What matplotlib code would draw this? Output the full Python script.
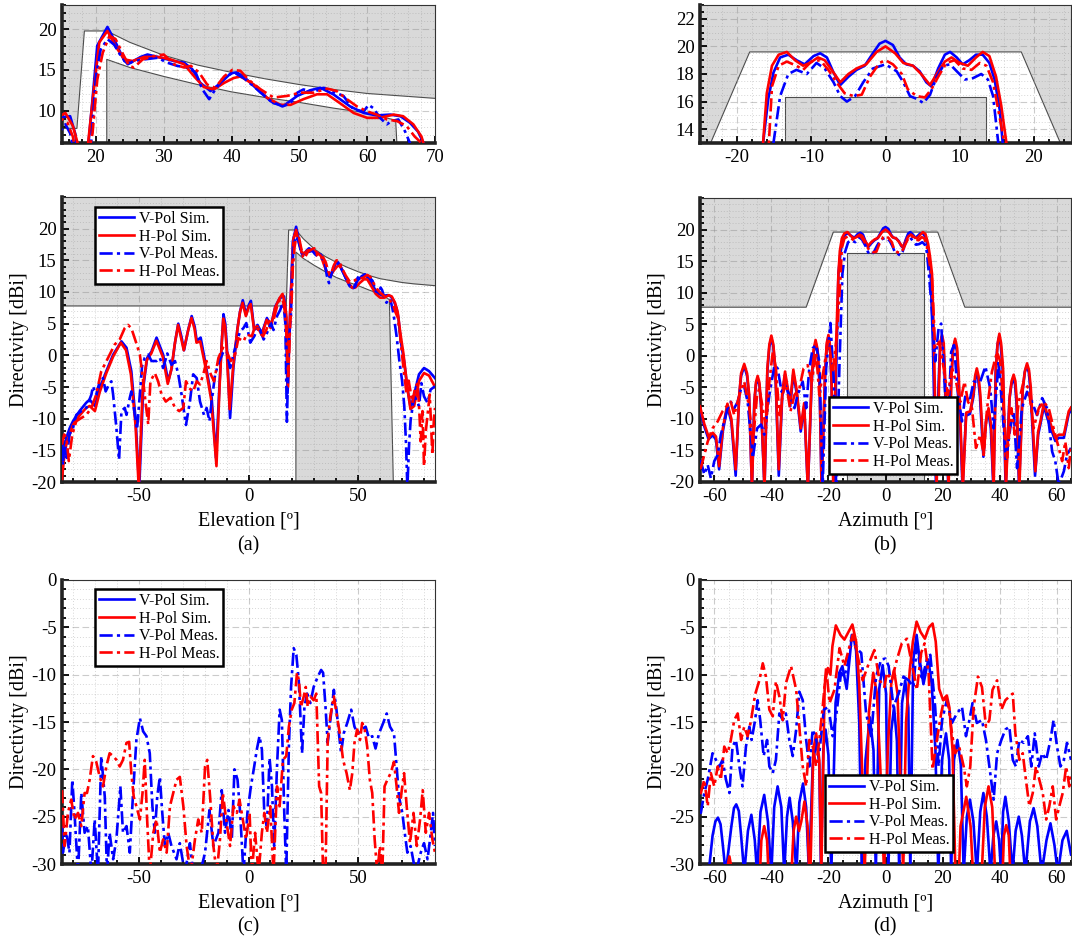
import numpy as np
import matplotlib
matplotlib.use('Agg')
import matplotlib.pyplot as plt
from matplotlib.lines import Line2D
from matplotlib.ticker import MultipleLocator, FixedLocator, FormatStrFormatter

plt.rcParams['font.family'] = ['Liberation Serif', 'DejaVu Serif']

# ---- elevation cut, co-polar (angle, dBi) ----
el_v_sim = [(-85, -18.5), (-84, -15), (-83, -13), (-81.5, -11.5), (-80, -10.4), (-77, -8.8), (-74, -7.5),
            (-72.4, -7), (-70, -8), (-67.8, -5.2), (-64.8, -2.5), (-61.7, 0.1), (-57.9, 2.2), (-55.6, 1.2),
            (-53.4, -2.5), (-51.4, -10.4), (-49.8, -21), (-48, -5.2), (-46.2, -0.4), (-44.2, 0.6), (-41.9, 2.8),
            (-38.9, 0.1), (-36.6, -4.1), (-35, -2), (-33.5, 2), (-32, 5), (-30.6, 3), (-29.4, 0.8), (-27.5, 4),
            (-25.9, 6.2), (-24.5, 4.5), (-23.6, 2.3), (-21.8, 2.8), (-20.3, 0), (-19, -2.5), (-16.8, -6.7),
            (-14.8, -16.2), (-13.3, -5.2), (-12.2, 2), (-11.4, 6.5), (-10.6, 5), (-9.9, 1.7), (-8.4, -9.9),
            (-6.9, -2), (-5, 4.3), (-3.8, 7), (-2.6, 8.7), (-1.1, 6.4), (0.2, 8), (1.1, 8.6), (2.6, 4), (4.1, 4.8),
            (6.1, 3.5), (8.4, 5.9), (10.2, 4.6), (12.2, 7.7), (14.2, 9), (15.2, 9.2), (16.2, 9.3), (17, 7),
            (17.8, -6), (18.8, 5), (19.5, 11.4), (20.2, 18), (21.7, 20.3), (22.9, 18.4), (24.2, 16.1), (25.1, 15.9),
            (26.6, 16.6), (27.6, 16.9), (29.6, 16.5), (31.5, 16.1), (33, 15.9), (34.2, 15.1), (35.4, 13.4),
            (36.9, 12.4), (38.4, 13.4), (39.9, 14.6), (40.8, 14.7), (42.3, 13.8), (44.3, 12.2), (46.2, 10.9),
            (47.7, 10.6), (49.7, 11.8), (51.6, 12.5), (53.1, 12.8), (55, 12), (57.5, 10.5), (59.5, 9.7),
            (61.4, 9.4), (63.4, 9.5), (64.9, 9.3), (66.3, 8.5), (67.5, 7.4), (68.3, 6), (69.4, 2.2), (70.9, -0.9),
            (72.4, -5.2), (73.9, -8.3), (75.5, -6.2), (77.7, -3), (80, -2), (82.3, -2.5), (85, -3.6)]
el_h_sim = [(-85, -19.5), (-84, -16), (-83, -14), (-81.5, -12.5), (-80, -11), (-77, -9.5), (-74, -8.3),
            (-72.4, -8), (-70, -8.8), (-67.8, -5.8), (-64.8, -2.8), (-61.7, -0.2), (-58.2, 2), (-55.8, 0.8),
            (-53.6, -3), (-51.5, -11), (-50, -21), (-48.2, -5), (-46.4, -0.8), (-44.3, 0.3), (-42, 2.3), (-39, -0.3),
            (-36.8, -4.5), (-35.2, -2.3), (-33.6, 1.8), (-32.1, 4.8), (-30.7, 2.7), (-29.5, 0.8), (-27.6, 3.8),
            (-26, 5.9), (-24.6, 4.2), (-23.7, 2.0), (-22, 2.2), (-20.4, -0.5), (-19, -3), (-17, -7), (-14.6, -17.5),
            (-13.2, -5), (-12.2, 1.8), (-11.5, 5.8), (-10.7, 4.6), (-10, 1.3), (-8.6, -8.5), (-7, -1.8), (-5.1, 4),
            (-3.9, 6.8), (-2.7, 8.3), (-1.2, 6.2), (0.1, 7.6), (1, 8.1), (2.5, 4.2), (4, 4.6), (6, 3.2), (8.3, 5.6),
            (10.1, 4.3), (12.1, 7.5), (14.1, 9), (15.5, 9.7), (16.6, 8.1), (17.3, 6), (18, -5), (18.9, 6.4),
            (19.8, 13.4), (20.5, 18.4), (21.7, 19.8), (22.9, 17.9), (24.2, 16.3), (25.4, 16.1), (27.1, 16.6),
            (29.1, 16.6), (31, 16.3), (33, 15.7), (34.5, 14.2), (35.9, 12.9), (37.4, 12.6), (38.9, 13.4), (40.3, 14),
            (41.3, 14.2), (43.3, 13.2), (45.2, 11.6), (47.2, 10.7), (48.7, 10.7), (50.6, 11.4), (52.6, 12),
            (54.1, 12), (56, 10.9), (58, 9.7), (60, 9.1), (61.9, 9.1), (63.9, 9.5), (65.3, 9.3), (66.8, 8.3),
            (68, 6.8), (69.2, 3.5), (70.6, 0.3), (72.2, -4.5), (73.8, -8.5), (75.5, -8), (77.8, -4), (80, -2.8),
            (82.3, -3.2), (85, -5)]
el_v_meas = [(-85, -14), (-84.6, -17.3), (-83.8, -13.6), (-82.8, -16.2), (-81.6, -12.5), (-80, -11.5),
             (-78.5, -9.4), (-76.2, -8.8), (-73.9, -8.3), (-71.6, -6.2), (-70.9, -4.9), (-69.4, -6.2), (-67.8, -4.1),
             (-66.3, -3.6), (-65.1, -5.7), (-63.6, -4.6), (-62.5, -4.1), (-61.7, -6.2), (-60.2, -11.5), (-59, -16.5),
             (-57.9, -8.8), (-56.4, -8.3), (-55.6, -9.4), (-54.1, -6.7), (-53.4, -5.7), (-51.8, -9.4),
             (-50.8, -11.7), (-49.5, -6), (-48.5, -1.7), (-47.3, -0.4), (-45.7, 0.1), (-44.2, -0.9), (-41.9, -0.9),
             (-40.4, -0.4), (-38.9, -2), (-37, 0.3), (-35.1, -1.5), (-33.5, -0.9), (-32, -3), (-30.5, -6.2),
             (-28.5, -11), (-26.7, -7.3), (-25.2, -3), (-23.6, -3.6), (-22.1, -7.3), (-20.3, -9.4), (-19.1, -8.3),
             (-17.8, -10.4), (-16.8, -7.3), (-15.2, -3), (-13.3, -0.9), (-11.4, 0.6), (-9.9, 0.6), (-8.4, -2),
             (-6.9, 0.1), (-5.3, 2.2), (-3.8, 3.8), (-2.3, 4.3), (-1, 5.1), (0.8, 2), (2.6, 3), (4.6, 4.6),
             (6.9, 2.5), (8.4, 3.5), (10.2, 5.1), (11.4, 4), (13, 6.2), (14.5, 7.2), (15.5, 8.3), (16.2, 7.2),
             (16.8, 5), (17.5, -10.5), (18.4, 2.5), (19.3, 6), (20, 14.2), (20.7, 17.5), (21.7, 18.8), (22.7, 18.1),
             (23.7, 16.7), (24.7, 15.7), (25.6, 16.1), (27.1, 16.3), (29.1, 16.5), (30.5, 15.9), (32, 15.5),
             (33.5, 15.3), (34.7, 14.7), (35.7, 12.6), (36.7, 11.4), (37.6, 12.6), (38.9, 14), (40.3, 14.7),
             (41.8, 14), (43.8, 12.6), (45.7, 11.2), (47.5, 10.5), (48.7, 10.9), (49.7, 12.2), (50.6, 12.6),
             (52.1, 12.3), (53.6, 12.8), (55, 12.3), (56.5, 11.8), (58, 10.1), (59.5, 9.9), (60.2, 10.7),
             (60.9, 10.3), (61.9, 9.1), (62.9, 8.3), (63.6, 8.7), (64.6, 8.9), (65.6, 7.4), (66.3, 6), (67.5, 3),
             (68.8, -1), (70, -4), (71, -8), (71.8, -14), (72.4, -21), (73.2, -14), (73.9, -10.2), (75.5, -6.5),
             (76.5, -7), (77.7, -8), (78.8, -4.4), (80, -6.5), (81.6, -7.5), (83, -5.4), (85, -4.9)]
el_h_meas = [(-85, -14.1), (-84, -12.5), (-83, -13), (-81.9, -16.7), (-80.3, -12.5), (-78.5, -10.4),
             (-76.2, -9.9), (-73.9, -9.4), (-71.6, -8.3), (-69.4, -6.2), (-67.1, -2.5), (-64, -0.4), (-61, 1.7),
             (-58.7, 2.5), (-56.4, 4.3), (-54.9, 4.8), (-53.4, 4.3), (-51.4, 2.2), (-49.5, 0.1), (-48, -4.1),
             (-46.8, -7.8), (-45.7, -10.9), (-44.7, -4.1), (-42.7, -2.8), (-41.2, -4.1), (-39.6, -6.2), (-37.7, -7.3),
             (-35.5, -6.7), (-33.5, -8.3), (-31.6, -8.8), (-29.7, -8.3), (-28.5, -4.1), (-27, -5.2), (-25.2, -5.7),
             (-23.6, -4.1), (-22.1, -4.6), (-20.6, -3), (-19.1, -0.9), (-17.2, -3), (-15.7, -4.1), (-13.7, -0.4),
             (-11.7, 1.2), (-9.9, 0.6), (-8.1, -0.9), (-6.1, 0.1), (-4.6, 2.7), (-2.3, 2.2), (-0.8, 3.3), (1.5, 3),
             (3, 4.6), (4.6, 4), (6.6, 3), (8.1, 4), (9.6, 5.4), (11.4, 5.6), (13, 7.7), (14.5, 9), (15.1, 8.9),
             (15.8, 8.5), (16.6, 6.8), (17.2, 4), (18.1, -3.3), (19, 5), (19.5, 7.2), (20.2, 13.8), (21, 17.1),
             (22, 19.2), (22.9, 18.8), (23.9, 17.1), (24.9, 15.5), (25.6, 15.3), (26.9, 16.3), (28.6, 16.7),
             (30, 16.9), (31.5, 15.7), (33, 15.3), (34, 15.5), (35.2, 14.7), (36.4, 13.2), (37.6, 12.8),
             (38.9, 14.2), (40.1, 15), (41.3, 14.9), (42.5, 13.8), (44.3, 12.6), (46.2, 11.6), (48.2, 11.8),
             (50.1, 12.2), (52.1, 12.2), (54.1, 12.7), (55.5, 12.4), (57, 11.4), (58.5, 10.5), (60, 9.9),
             (61.4, 9.5), (62.9, 8.9), (64.4, 8.7), (65.8, 8.1), (67, 6.8), (68, 6), (69, 3.5), (70, 0), (71, -3),
             (72, -6), (73, -4), (74.7, -7.5), (76, -5), (77, -4.5), (77.7, -7.8), (78.5, -13.6), (79.3, -8.8),
             (80, -17.5), (80.8, -12), (81.6, -9.4), (82.6, -6.2), (83.8, -15.7), (84.5, -10), (85, -8.3)]

# ---- azimuth cut, co-polar ----
az_v_sim = [(-65, -8.5), (-63.5, -11.2), (-62, -13.2), (-60.5, -12.6), (-59.4, -13.3), (-58.3, -18), (-57, -12),
            (-55.4, -8), (-54, -10.5), (-52.5, -19), (-51.3, -6.5), (-50.6, -3.2), (-49.5, -1.6), (-48.5, -3.2),
            (-47.8, -6.5), (-46.8, -21), (-46, -7.5), (-45.4, -4.6), (-44.8, -3.6), (-44.2, -4.6), (-43.6, -8),
            (-42.4, -21), (-41.4, -2.5), (-40.7, 1.4), (-40, 2.8), (-39.3, 1.4), (-38.6, -2.5), (-37.4, -19),
            (-36.2, -6.5), (-35.2, -3), (-34.3, -5.5), (-33.4, -8), (-32.3, -2.8), (-31.1, -6), (-29.7, -12),
            (-28.5, -8), (-27.2, -21), (-25.9, -4.5), (-25.2, 0.5), (-24.5, 2), (-23.8, 0.5), (-23.1, -4.5),
            (-22.4, -21), (-21.2, -3.5), (-20.6, 1.5), (-20, 3), (-19.4, 1), (-18.9, -4.5), (-18.2, -21),
            (-17.1, 1), (-16.5, 13), (-15.8, 16.2), (-15.1, 18.1),
            (-14.2, 19.2), (-13.1, 19.4), (-12, 19), (-10.9, 18.7), (-9.7, 19.3), (-8.8, 19.5), (-7.9, 19.2),
            (-7, 18.1), (-6.1, 17.2), (-5, 17.8), (-3.9, 18.3), (-2.8, 18.6), (-1.7, 19.5), (-0.8, 20.2), (0, 20.4),
            (1, 20.1), (1.9, 19.2), (2.8, 18.7), (3.7, 18.6), (4.6, 18.2), (5.5, 17.4), (6.2, 17.1), (7.1, 18.4),
            (8, 19.4), (8.7, 19.6), (9.6, 19.2), (10.4, 18.7), (11.3, 19), (12.2, 19.4), (13.1, 19.4), (14, 18.8),
            (14.7, 17.6), (15.4, 15.4), (15.8, 13), (16.6, 2), (17.7, -21), (18.6, -4.5), (19.1, 1.5),
            (19.7, 3), (20.3, 1.5), (20.8, -4), (22, -21), (23, -4), (23.6, 0.8), (24.3, 2.3), (25, 0.8),
            (25.6, -4), (27, -21), (28.2, -9.5), (29.6, -9.2), (30.8, -6.5), (31.4, -3.8), (31.9, -2.5),
            (32.5, -3.8), (33.1, -6.5), (34.3, -16), (35.2, -10.5), (36, -8.8), (36.9, -11.5), (37.8, -21),
            (38.6, -2.5), (39.2, 1.6), (39.8, 3), (40.4, 1.6), (41.1, -2.5), (42.1, -21), (43.4, -7),
            (44.1, -4.6), (44.8, -3.5), (45.4, -4.6), (45.9, -7.5), (46.8, -21), (48, -5.8), (48.8, -2.6),
            (49.5, -1.6), (50.2, -2.6), (50.8, -5.5), (52.4, -19), (53.5, -12.5),
            (54.3, -10.8), (55.5, -8), (56.8, -10), (58.3, -12), (59.5, -13.5), (60.7, -13), (62.5, -13),
            (64.2, -9.2), (65, -8.6)]
az_h_sim = [(-65, -8), (-63.5, -10.8), (-62, -12.8), (-60.5, -12.2), (-59.4, -12.8), (-58.3, -17.5), (-57, -11.5),
            (-55.4, -7.6), (-54, -10), (-52.5, -18), (-51.2, -6), (-50.6, -2.8), (-49.5, -1.3), (-48.5, -2.8),
            (-47.8, -6), (-46.8, -21), (-45.9, -7), (-45.4, -4.2), (-44.8, -3.2), (-44.2, -4.2), (-43.6, -7.5),
            (-42.4, -21), (-41.4, -2), (-40.7, 1.8), (-40, 3.2), (-39.3, 1.8), (-38.6, -2), (-37.4, -18),
            (-36.2, -6), (-35.2, -2.5), (-34.3, -5), (-33.4, -7.5), (-32.3, -2.2), (-31.1, -5.5),
            (-29.7, -11.5), (-28.5, -7.5), (-27.2, -21), (-25.9, -4), (-25.2, 1), (-24.5, 2.5), (-23.8, 1),
            (-23.1, -4), (-22.4, -21), (-21.2, -3), (-20.6, 2), (-20, 3.3), (-19.4, 1.5), (-18.9, -4),
            (-18.3, -21), (-17.3, 2), (-16.5, 13), (-16, 16.6), (-15.3, 18.6),
            (-14.4, 19.4), (-13.3, 19.6), (-12.2, 19), (-11.1, 18.6), (-10.2, 18.8), (-9.1, 19.2), (-8.2, 19),
            (-7, 18.1), (-6.1, 17.4), (-5, 18), (-3.9, 18.4), (-2.6, 18.7), (-1.2, 19.6), (0, 20), (1.3, 19.5),
            (2.4, 18.8), (3.7, 18.6), (4.8, 18), (6, 17.2), (6.9, 18), (8, 18.9), (8.9, 19.2), (10, 18.8),
            (11.1, 18.6), (12.2, 19.2), (13.1, 19.6), (14, 19.3), (14.9, 17.8), (15.6, 15.7), (16.3, 13), (17, 2),
            (17.9, -21), (18.8, -4), (19.2, 2), (19.8, 3.3), (20.4, 2), (20.9, -3.5), (22.1, -21), (23.1, -3.5),
            (23.7, 1.2), (24.4, 2.7), (25.1, 1.2), (25.7, -3.5), (27.1, -21), (28.3, -9), (29.7, -8.8),
            (30.8, -6), (31.4, -3.2), (32, -2), (32.6, -3.2), (33.2, -6), (34.4, -15.7), (35.3, -10),
            (36.1, -8.3), (37, -11), (37.9, -21), (38.7, -2), (39.3, 2), (39.9, 3.5), (40.5, 2), (41.2, -2),
            (42.2, -21), (43.5, -6.5), (44.2, -4), (44.9, -3), (45.5, -4), (46, -7), (46.9, -21), (48.1, -5),
            (48.9, -2.3), (49.6, -1.2), (50.3, -2.3), (50.9, -5), (52.5, -18.3), (53.5, -12),
            (54.3, -10.4), (55.5, -7.5), (56.8, -9.4), (58.4, -11.5), (59.5, -13), (60.7, -12.5), (62.5, -12.5),
            (64.2, -8.8), (65, -8.2)]
az_v_meas = [(-65, -16.7), (-64.7, -16.7), (-63.5, -18.8), (-62.3, -17.3), (-61.2, -19.4), (-60, -16.7),
             (-58.8, -15.7), (-57.7, -12.5), (-56.5, -10.4), (-55.3, -8.3), (-54.2, -7.3), (-53, -8.3),
             (-51.8, -7.3), (-50.6, -5.2), (-49.5, -4.9), (-48.3, -7.3), (-46.5, -16.2), (-45, -11.5),
             (-43.6, -10.9), (-42.5, -12.5), (-40.7, -6.2), (-38.9, -1.5), (-37.8, -2), (-36.4, -5.7), (-35.2, -4.6),
             (-33.7, -6.2), (-31.9, -8.3), (-30.8, -6.2), (-29, -4.1), (-27.8, -8.3), (-26.7, -2), (-25.5, 1.2),
             (-24.3, 1.7), (-23.2, -0.9), (-22, -20.5), (-20.8, -2), (-19.3, 5.2), (-18.1, -4.1), (-17.3, -20.5),
             (-16.1, -0.9), (-15.1, 13), (-14.2, 16.4), (-13.1, 18), (-12, 18.3), (-10.6, 18), (-9.3, 18.8),
             (-8.2, 18.4), (-7, 17.4), (-6.1, 16.4), (-5.2, 16), (-4.1, 16.4), (-3, 17.4), (-1.7, 18.4), (0, 18.7),
             (1.5, 18.2), (2.4, 17.4), (3.3, 16.4), (4.2, 16.2), (5.1, 15.9), (6, 16.5), (6.9, 17.8), (7.8, 18.6),
             (8.7, 18.7), (9.6, 18.2), (10.7, 17.6), (11.8, 17.7), (12.9, 18), (13.8, 17.6), (14.5, 16.4),
             (15.2, 13), (16.3, 7), (17.4, -0.9), (18.6, 4.3), (19.5, 5.1), (20.7, -4.1), (21.9, -11.5), (23, 0.6),
             (24, 1.7), (25.4, -6.2), (26.8, -10.4), (28, -6.2), (29.4, -7.3), (30.9, -4.1), (33.2, -4.1),
             (35, -1.7), (36.7, -5.2), (37.9, -11.5), (39.6, -0.9), (41.1, -9.4), (42.2, -16.7), (43.7, -11.5),
             (44.9, -8.8), (46.1, -17.8), (47.8, -8.3), (49.6, -5.7), (51.3, -7.3), (53.1, -9.4), (54.9, -6.7),
             (56.6, -8.3), (58.4, -15.2), (59.5, -16.7), (60.7, -20.5), (62.5, -18.3), (63.6, -15.7), (65, -14.6)]
az_h_meas = [(-65, -17.8), (-64.7, -17.8), (-63.5, -15.7), (-62.3, -13.6), (-60.6, -11.5), (-58.8, -10.4),
             (-57.1, -8.8), (-55.3, -7.8), (-54.2, -7.3), (-53, -9.4), (-51.2, -6.2), (-49.5, -4.1), (-47.7, -8.3),
             (-46.5, -14.1), (-45, -6.2), (-44.2, -5.2), (-43, -8.3), (-41.9, -11.5), (-40.7, -4.1), (-39.5, 0.6),
             (-38.4, -2), (-37.2, -9.4), (-36, -6.2), (-34.9, -4.1), (-33.3, -8.8), (-31.9, -6.2), (-30.2, -5.2),
             (-28.7, -2), (-27.3, -1.5), (-25.8, -4.1), (-24.3, 0.6), (-23.2, -6.2), (-21.6, -2), (-20, 2.7),
             (-18.5, -2.5), (-17, 3.3), (-15.8, 12.2), (-15.3, 17.1), (-14.4, 18.6), (-13.3, 18.9), (-12, 18.6),
             (-11.1, 18.3), (-10, 18.9), (-8.8, 19), (-7.7, 18.3), (-6.6, 17.4), (-5.5, 16.6), (-4.3, 16.4),
             (-3.2, 16.5), (-2.1, 17.8), (-0.8, 18.8), (0, 19), (1, 18.7), (2.2, 18), (3, 16.9), (4.2, 16.4),
             (5.3, 16.3), (6.2, 16.9), (7.1, 17.8), (8.2, 18.8), (9.3, 19), (10.4, 18.4), (11.6, 18.3), (12.7, 18.8),
             (13.6, 18.6), (14.5, 17.4), (15.2, 15.4), (16.3, 12.2), (17.4, 1.2), (18.8, 2.2), (20.4, -2),
             (21.9, -6.2), (23.3, -2), (24.7, -4.1), (26.2, -7.3), (27.7, -4.1), (28.9, -7.3), (30.3, -8.3),
             (31.7, -14.6), (33.2, -12.5), (34.4, -15.7), (35.6, -8.3), (37.3, -2.5), (39.1, 0.6), (40.2, -0.9),
             (41.4, -8.3), (42.6, -16.2), (44.1, -8.3), (45.3, -12.5), (46.7, -7.3), (48.4, -4.1), (50.2, -5.2),
             (51.9, -11.5), (53.7, -8.3), (55.4, -7.3), (57.2, -8.3), (58.9, -11.5), (60.7, -14.6), (61.9, -16.7),
             (63, -13.6), (64.2, -17.8), (65, -14.6)]

# ---- elevation cut, cross-polar (measured) ----
el_xp_v_meas = [(-85, -26), (-84.6, -28.8), (-83, -26.7), (-81.6, -28.8), (-80.3, -21.1), (-79.3, -24.6),
                (-77.7, -31), (-76.2, -22.5), (-74.7, -26.7), (-73.2, -26), (-71.6, -31), (-70.1, -25.3),
                (-68.6, -31), (-67.1, -18.6), (-65.5, -22.9), (-64.5, -31), (-63.3, -26.7), (-61.7, -29.5),
                (-60.2, -27.4), (-58.4, -21.8), (-57.2, -26.7), (-55.6, -26), (-54.1, -28.8), (-52.6, -22.5),
                (-51.1, -16.9), (-49.5, -14.6), (-48, -16), (-46.5, -16.5), (-45, -18.3), (-43.8, -23.9),
                (-42.7, -26.7), (-41.6, -22.9), (-40.4, -20.8), (-39.3, -24.6), (-38.1, -28.1), (-36.6, -26.7),
                (-35.1, -28.1), (-32.8, -29.5), (-31.3, -27.8), (-29, -31), (-26.7, -27.8), (-25.2, -31),
                (-22.1, -31), (-19.8, -28.8), (-17.8, -24.3), (-16, -28.1), (-13.7, -26.7), (-12.2, -22.2),
                (-10.7, -26.7), (-9.1, -24.3), (-7.6, -27.4), (-6.4, -20), (-5, -21.1), (-3.8, -24.6), (-2.3, -31),
                (-0.5, -24.6), (1.1, -21.8), (2.6, -19.7), (3.8, -17.9), (5, -16.5), (6.1, -17.9), (7.2, -24.6),
                (8.4, -26), (9.6, -18.8), (10.7, -21.8), (11.7, -28.1), (13, -19.7), (14.2, -13.7), (15.2, -14.8),
                (16.3, -24.6), (17.2, -31), (18.4, -17.6), (19.4, -11.3), (20.6, -7.2), (21.8, -7.9), (22.9, -10.6),
                (23.6, -14.1), (24.4, -18.3), (25.5, -13.4), (26.7, -12), (28.2, -13), (29.7, -11.3), (31.6, -10.2),
                (33.1, -9.5), (34, -9.8), (35.1, -13.4), (36.1, -17.2), (37.3, -14.8), (38.9, -11.6), (40.1, -13.7),
                (41.2, -16.2), (42.2, -18.3), (43.4, -16.2), (45, -15.1), (46.8, -13.7), (48.3, -15.5),
                (49.8, -16.2), (51.4, -15.8), (53.4, -15.5), (54.9, -16.7), (56.4, -16.5), (57.9, -17.8),
                (59.5, -16.2), (61.4, -15.1), (63, -14.1), (64.5, -15.5), (66.3, -16.2), (67.5, -19.7),
                (68.6, -22.9), (70.1, -24.6), (71.2, -26.7), (72.4, -28.8), (73.9, -28.1), (76.2, -31),
                (78.5, -28.8), (80, -27.8), (81.6, -29.5), (83.1, -26.7), (84.1, -24.6), (85, -28.1)]
el_xp_h_meas = [(-85, -22.2), (-83.8, -28.1), (-82.3, -24.6), (-80.8, -23.2), (-79.3, -25.3), (-77.7, -24.6),
                (-76.2, -26), (-74.7, -22.5), (-73.6, -22.5), (-72.4, -21.1), (-70.9, -18.6), (-69.4, -19.2),
                (-67.8, -20.8), (-66.3, -21.8), (-64.8, -19.7), (-63.3, -18.3), (-61.7, -18.6), (-60.2, -19),
                (-58.7, -19.7), (-57.2, -19), (-55.6, -17.2), (-54.4, -17.1), (-53.4, -20.4), (-52.3, -22.9),
                (-51.1, -23.9), (-49.5, -25.3), (-48.3, -22.5), (-47.3, -19), (-46.2, -25.3), (-45, -31),
                (-43.4, -26.7), (-41.9, -25.3), (-40.4, -28.8), (-38.9, -27.4), (-37.3, -28.8), (-35.8, -23.9),
                (-34.3, -22.5), (-32.8, -21.1), (-31.3, -20.8), (-29.7, -23.9), (-28.2, -28.1), (-26.4, -31),
                (-24.4, -27.4), (-22.9, -25.3), (-21.3, -26.7), (-19.8, -19.7), (-18.8, -19), (-17.5, -22.9),
                (-16, -28.1), (-14.5, -31), (-13, -27.4), (-11.7, -22.5), (-10.2, -25.3), (-8.4, -28.1),
                (-6.9, -23.9), (-5.3, -24.6), (-4.1, -23.2), (-2.6, -25.3), (-1.1, -27.4), (0.5, -24.6), (1.5, -31),
                (3, -26.7), (4.6, -31), (6.1, -26.7), (7.2, -24.6), (8.4, -26.7), (9.9, -23.9), (11.4, -31),
                (13, -21.8), (14.2, -23.9), (15.7, -19), (17.2, -18.6), (18.4, -15.5), (19.7, -13.7), (20.9, -13),
                (22.1, -9.8), (23, -10.6), (23.9, -13.4), (25.2, -12.3), (26.1, -11.3), (27, -13.4), (28.2, -12.3),
                (29.7, -12.7), (30.9, -12), (32.2, -21.8), (33.1, -22.5), (34, -31), (35.1, -31), (36.1, -16.9),
                (37.3, -14.4), (38.9, -12.3), (40.1, -14.1), (41.6, -16.2), (43.1, -19), (44.7, -20.4),
                (46.2, -22.2), (47.3, -20.4), (48.3, -17.2), (49.5, -15.8), (50.8, -16.9), (51.8, -15.1),
                (53, -15.8), (54.1, -17.6), (55.3, -21.1), (56.4, -22.5), (57.5, -27.4), (58.7, -31), (59.9, -28.1),
                (61, -31), (62, -21.8), (63.3, -21.1), (64.8, -20.4), (66.3, -19.2), (67.5, -21.8), (68.6, -24.6),
                (69.7, -22.5), (70.9, -20.4), (72.1, -23.9), (73.6, -27.8), (75.2, -24.6), (76.7, -28.1),
                (78.2, -25.3), (79.4, -22.2), (80.8, -26.7), (82.3, -24.6), (83.8, -27.4), (85, -28.8)]

# ---- azimuth cut, cross-polar ----
az_xp_v_sim = [(-65, -31), (-62, -31), (-60.6, -27), (-59.6, -25.5), (-58.7, -25.1), (-57.8, -25.8), (-57, -28),
               (-56, -31), (-54, -26), (-53.1, -24.1), (-52.3, -23.7), (-51.4, -24.4), (-50.6, -27), (-49.5, -31),
               (-48.2, -26.5), (-47, -24.8), (-45.8, -27.5), (-45, -31), (-43.8, -24.5), (-42.5, -22.7),
               (-41.2, -25.5), (-40, -31), (-39, -24), (-37.8, -21.8), (-36.5, -24), (-35.5, -31), (-34.5, -25),
               (-33.6, -23), (-32.5, -25.5), (-31.2, -31), (-30.2, -23.5), (-28.9, -21.5), (-27.8, -24),
               (-26.8, -31), (-25.5, -19.5), (-24.2, -16.9), (-23.2, -19.5), (-22.6, -31), (-21.8, -18),
               (-21, -15.8), (-20, -18.5), (-19, -31), (-17.5, -13), (-16.2, -9.8), (-15.1, -9.1), (-13.6, -11.5),
               (-12, -6.5), (-11.3, -5.8), (-10.3, -7.5), (-9.2, -15), (-8.3, -31), (-7, -19), (-5.5, -14.5),
               (-4.2, -18), (-3.4, -31), (-2.2, -11.5), (-1, -9), (0.2, -12), (1, -31), (2, -16), (3, -13.4),
               (4, -17), (4.8, -31), (5.8, -13), (6.9, -10.6), (8, -13.5), (8.7, -31), (9.7, -8.5), (10.9, -5.8),
               (12, -8.5), (13.3, -11), (15, -8.4), (16.2, -11), (17.5, -18), (18.5, -31), (19.8, -19),
               (21.2, -16.2), (22.3, -19), (23, -31), (24, -19), (25.2, -16.9), (26.4, -19.5), (27.4, -31),
               (28.5, -25), (29.6, -23.2), (30.8, -25.5), (32, -31), (33.2, -24.5), (34.3, -22.5), (35.5, -25),
               (36.8, -31), (37.8, -27), (38.8, -25.5), (39.8, -27.5), (40.5, -31), (41.2, -24.5), (42, -22.9),
               (43.2, -25.5), (44.5, -31), (45.6, -26.5), (46.7, -25), (47.8, -27), (49, -31), (50.6, -25.5),
               (51.9, -24.1), (53.2, -26), (54.7, -31), (56.4, -27.5), (57.8, -25.7), (59.2, -28), (60.4, -31),
               (62, -27.5), (63.5, -26.5), (65, -29)]
az_xp_h_sim = [(-65, -33), (-56, -33), (-55.5, -30.5), (-54.7, -29.2), (-53.9, -30.5), (-53.4, -33),
               (-44.3, -33), (-43.5, -27.5), (-42.5, -26), (-41.5, -27.5), (-40.7, -33), (-33.3, -33),
               (-32.2, -26.5), (-31.3, -25), (-30.3, -26.5), (-29.5, -25.5), (-28.4, -23.4), (-27.3, -26),
               (-26.5, -33), (-25.3, -18), (-24.3, -16.2), (-23.2, -19), (-22.5, -31), (-21.3, -11), (-20.2, -9.3),
               (-19.3, -10), (-18.6, -7), (-17.4, -4.8), (-15.8, -5.8), (-14.4, -6.3), (-13, -5.5), (-11.6, -4.7),
               (-10.3, -6.5), (-9.2, -11), (-8.2, -20), (-7.3, -31), (-5.8, -14), (-4.3, -9.8), (-3, -12),
               (-1.8, -20), (-0.5, -31), (0.8, -18), (2, -11), (3, -9.5), (4.2, -12), (5.3, -22), (6.2, -31),
               (7.2, -15), (8.5, -9.5), (9.6, -6.5), (10.9, -4.4), (12.3, -5.5), (13.8, -6.2), (15.2, -5),
               (16.5, -4.6), (17.6, -6.5), (18.8, -11.5), (20.2, -12.7), (21.5, -12.2), (22.4, -13.5), (23.5, -18),
               (24.5, -31), (25.5, -33), (26.3, -26), (28.3, -22.9), (29.8, -26), (31, -33), (33.4, -33),
               (34.8, -24), (36.1, -21.8), (37.4, -24), (38.7, -33), (40.8, -33), (41.5, -27), (42.3, -25.9),
               (43.2, -27), (44, -33), (65, -33)]
az_xp_v_meas = [(-65, -24.6), (-64.7, -24.6), (-63.5, -22.5), (-62.3, -21.1), (-60.6, -18.3), (-59.4, -19),
                (-58.2, -19.7), (-57.1, -19), (-55.9, -21.1), (-54.7, -22.5), (-53.6, -17.6), (-52.4, -16.9),
                (-51.2, -19.7), (-50.1, -21.8), (-48.9, -17.6), (-47.7, -15.5), (-46.9, -16.9), (-45.7, -14.8),
                (-44.8, -12.7), (-43.9, -14.8), (-42.7, -18.6), (-41.5, -16.9), (-40.7, -19.7), (-39.5, -20.4),
                (-38.4, -19), (-37.2, -14.1), (-36, -14.8), (-34.9, -14.1), (-33.7, -16.9), (-32.5, -18.6),
                (-31.3, -15.8), (-30.2, -11.8), (-29, -12.7), (-27.8, -16.9), (-26.7, -19.7), (-25.5, -15.8),
                (-24.3, -16.9), (-23.2, -18.3), (-21.6, -13.7), (-20, -13.4), (-18.5, -16.5), (-17, -13.7),
                (-15.6, -9.8), (-14.4, -10.2), (-13.2, -8.8), (-11.8, -5.8), (-10.3, -7.2), (-8.5, -7.7),
                (-6.8, -14.1), (-5, -16.5), (-3.3, -10.2), (-1.5, -8.4), (0, -8.3), (1.1, -9.1), (2.8, -13.4),
                (4.6, -12), (6.3, -10.2), (8.1, -10.6), (9.8, -11.3), (11, -6.7), (12.7, -10.6), (14.5, -8.4),
                (15.7, -7.9), (17.4, -13.4), (18.6, -19.7), (19.8, -14.8), (21.5, -12.7), (23.3, -15.1), (25, -14.1),
                (26.8, -13.4), (28.2, -16.5), (29.4, -14.8), (30.5, -13), (32, -15.1), (33.8, -14.8), (35.2, -16.9),
                (36.7, -20.4), (37.9, -23.2), (39.1, -18.3), (40.6, -16.9), (42, -15.8), (43.4, -15.5), (44.6, -19),
                (45.7, -19.7), (46.9, -16.9), (48.4, -17.2), (49.9, -16.5), (51.1, -19.7), (52.3, -16.2),
                (53.7, -19.7), (54.9, -18.3), (56.3, -19), (57.8, -16.9), (58.9, -14.8), (60.1, -17.6),
                (61.3, -19.7), (62.5, -19), (63.6, -17.2), (65, -19)]
az_xp_h_meas = [(-65, -22.5), (-64.7, -22.5), (-63.5, -21.1), (-62.3, -23.9), (-61.2, -20.4), (-60, -21.8),
                (-58.8, -19.7), (-57.7, -21.1), (-56.5, -17.6), (-55.3, -18.3), (-54.2, -16.9), (-53, -14.8),
                (-51.8, -14.1), (-50.6, -16.9), (-49.5, -15.5), (-48.3, -16.5), (-47.1, -14.8), (-45.7, -12.1),
                (-44.2, -10.6), (-43, -8.8), (-41.9, -10.2), (-40.7, -13.7), (-39.5, -14.4), (-38.4, -10.7),
                (-37.2, -12.3), (-36, -14.8), (-34.9, -10.9), (-33.1, -9.1), (-31.3, -11.6), (-30.2, -15.5),
                (-29, -19.7), (-27.8, -21.8), (-26.7, -16.9), (-25.5, -17.6), (-24.3, -19.7), (-23.2, -16.9),
                (-22, -13.4), (-20.8, -9.3), (-19.6, -13), (-17.9, -11.6), (-16.1, -7.2), (-14.4, -9.1), (-12.6, -7),
                (-11.5, -5.8), (-9.7, -8.1), (-8, -10.6), (-6.2, -9.1), (-3.9, -7.4), (-2.1, -10.6), (-0.4, -11.3),
                (0.5, -9.8), (2.2, -10.6), (4, -8.4), (5.7, -6.7), (7.5, -6.2), (9.2, -8.8), (11, -11.6), (12.5, -7.7),
                (13.7, -6.7), (15.1, -9.8), (16.5, -20), (18, -16.9), (19.5, -14.1), (20.9, -12.1), (22.1, -13.4),
                (23.3, -16.2), (24.4, -18.3), (25.8, -17.6), (27.4, -19.7), (28.5, -21.8), (29.7, -19.7),
                (30.9, -13.4), (32.4, -10.2), (33.8, -11.3), (35.2, -15.5), (36.4, -14.8), (37.5, -11.6),
                (39.1, -10.6), (40.6, -13.7), (42, -12.7), (43.4, -12.3), (44.6, -12), (45.5, -16.2), (46.9, -19),
                (48.1, -18.3), (49.2, -21.1), (50.4, -23.9), (51.6, -22.5), (52.7, -19.7), (53.9, -21.1),
                (55.1, -22.5), (56.3, -25.3), (57.4, -23.9), (58.6, -21.8), (59.8, -25.3), (60.9, -23.9),
                (62.1, -22.5), (63.3, -19.7), (64.4, -21.8), (65, -20.4)]

# ---- template masks ----
el_mask_upper = [(-85, 7.8), (17.2, 7.8), (18.3, 19.8), (21.6, 19.8), (25, 18.4), (30, 16.8), (35, 15.6),
                 (40, 14.7), (45, 13.9), (50, 13.2), (55, 12.6), (60, 12.1), (65, 11.8), (70, 11.5), (75, 11.3),
                 (85, 11.0)]
el_mask_lower = [(21.6, -20), (21.6, 16.3), (25, 15.3), (30, 14.2), (35, 13.2), (40, 12.3), (45, 11.6), (50, 11.0),
                 (55, 10.3), (60, 9.7), (64.2, 8.8), (66, -20)]
az_mask_upper = [(-65, 7.7), (-27.8, 7.7), (-18.3, 19.6), (18.3, 19.6), (27.8, 7.7), (65, 7.7)]
az_mask_lower = [(-13.6, -20), (-13.6, 16.3), (13.6, 16.3), (13.6, -20)]

labels = ['V-Pol Sim.', 'H-Pol Sim.', 'V-Pol Meas.', 'H-Pol Meas.']
dashdot = (0, (5, 1.6, 1.2, 1.6))
styles = [dict(color='#0000ff', ls='-', lw=1.9),
          dict(color='#ff0000', ls='-', lw=1.9),
          dict(color='#0000ff', ls=dashdot, lw=1.9),
          dict(color='#ff0000', ls=dashdot, lw=1.9)]
mask_grey = '#d9d9d9'
W, H = 1072, 938


def rect(l, r, t, b):
    return [l / W, 1 - b / H, (r - l) / W, (b - t) / H]


def style_axes(ax, xlim, ylim, xmaj, xmin, yticks, ymin):
    ax.set_xlim(*xlim)
    ax.set_ylim(*ylim)
    ax.xaxis.set_major_locator(MultipleLocator(xmaj))
    ax.xaxis.set_minor_locator(MultipleLocator(xmin))
    ax.yaxis.set_major_locator(FixedLocator(yticks))
    ax.yaxis.set_minor_locator(MultipleLocator(ymin))
    ax.xaxis.set_major_formatter(FormatStrFormatter('%g'))
    ax.yaxis.set_major_formatter(FormatStrFormatter('%g'))
    ax.set_axisbelow('line')
    ax.grid(True, which='major', color='0.55', alpha=0.45, ls=(0, (6, 3)), lw=0.8)
    ax.grid(True, which='minor', color='0.55', alpha=0.35, ls=(0, (1, 2)), lw=0.7)
    ax.tick_params(which='both', direction='in', top=False, right=False, labelsize=13.5, width=1.3)
    ax.tick_params(which='major', length=5, pad=4)
    ax.tick_params(which='minor', length=3)
    for s in ('left', 'bottom'):
        ax.spines[s].set_linewidth(2.6)
        ax.spines[s].set_color('#222222')
    for s in ('top', 'right'):
        ax.spines[s].set_linewidth(0.8)
        ax.spines[s].set_color('#333333')


def draw_mask(ax, upper, lower):
    ux, uy = np.array(upper).T
    lx, ly = np.array(lower).T
    ax.fill_between(ux, uy, 100, color=mask_grey, lw=0, zorder=1)
    ax.fill(lx, ly, color=mask_grey, lw=0, zorder=1)
    ax.plot(ux, uy, color='0.3', lw=0.8, zorder=1.2)
    ax.plot(lx, ly, color='0.3', lw=0.8, zorder=1.2)


def draw_series(ax, series):
    for pts, st in zip(series, styles):
        if pts is None:
            continue
        x, y = np.array(pts).T
        ax.plot(x, y, zorder=3, **st)


def add_legend(ax, anchor):
    handles = [Line2D([], [], **st) for st in styles]
    leg = ax.legend(handles, labels, loc='upper left', bbox_to_anchor=anchor, borderaxespad=0,
                    fontsize=11.5, frameon=True, fancybox=False, framealpha=1, edgecolor='black',
                    handlelength=2.2, handletextpad=0.3, labelspacing=0.1, borderpad=0.25)
    leg.get_frame().set_linewidth(1.8)
    leg.set_zorder(5)


def finish(ax, xlabel, tag, tag_xy, anchor):
    ax.set_xlabel(xlabel, fontsize=14.5, labelpad=5)
    ax.set_ylabel('Directivity [dBi]', fontsize=14.5, labelpad=2)
    add_legend(ax, anchor)
    fig.text(tag_xy[0] / W, 1 - tag_xy[1] / H, tag, ha='center', va='center', fontsize=14.5)


fig = plt.figure(figsize=(W / 100, H / 100), dpi=100)

el_co = [el_v_sim, el_h_sim, el_v_meas, el_h_meas]
az_co = [az_v_sim, az_h_sim, az_v_meas, az_h_meas]
co_ticks = list(range(-20, 21, 5))
xp_ticks = list(range(-30, 1, 5))

# zoomed main-beam views
ax = fig.add_axes(rect(62, 435, 5, 143))
style_axes(ax, (15, 70), (6, 23), 10, 2, [10, 15, 20], 1)
draw_mask(ax, el_mask_upper, el_mask_lower)
draw_series(ax, el_co)

ax = fig.add_axes(rect(700, 1071, 5, 143))
style_axes(ax, (-25, 25), (13, 23), 10, 2, [14, 16, 18, 20, 22], 0.5)
draw_mask(ax, az_mask_upper, az_mask_lower)
draw_series(ax, az_co)

# (a) elevation co-polar
ax = fig.add_axes(rect(62, 435, 197, 482))
style_axes(ax, (-85, 85), (-20, 25), 50, 10, co_ticks, 1)
draw_mask(ax, el_mask_upper, el_mask_lower)
draw_series(ax, el_co)
finish(ax, 'Elevation [º]', '(a)', (248, 546), (0.088, 0.965))

# (b) azimuth co-polar
ax = fig.add_axes(rect(700, 1071, 198, 482))
style_axes(ax, (-65, 65), (-20, 25), 20, 5, co_ticks, 1)
draw_mask(ax, az_mask_upper, az_mask_lower)
draw_series(ax, az_co)
finish(ax, 'Azimuth [º]', '(b)', (885, 546), (0.347, 0.299))

# (c) elevation cross-polar
ax = fig.add_axes(rect(62, 435, 580, 864))
style_axes(ax, (-85, 85), (-30, 0), 50, 10, xp_ticks, 1)
draw_series(ax, [None, None, el_xp_v_meas, el_xp_h_meas])
finish(ax, 'Elevation [º]', '(c)', (248, 927), (0.088, 0.968))

# (d) azimuth cross-polar
ax = fig.add_axes(rect(700, 1071, 580, 864))
style_axes(ax, (-65, 65), (-30, 0), 20, 5, xp_ticks, 1)
draw_series(ax, [az_xp_v_sim, az_xp_h_sim, az_xp_v_meas, az_xp_h_meas])
finish(ax, 'Azimuth [º]', '(d)', (885, 927), (0.336, 0.313))

fig.savefig('out.png', dpi=100)
